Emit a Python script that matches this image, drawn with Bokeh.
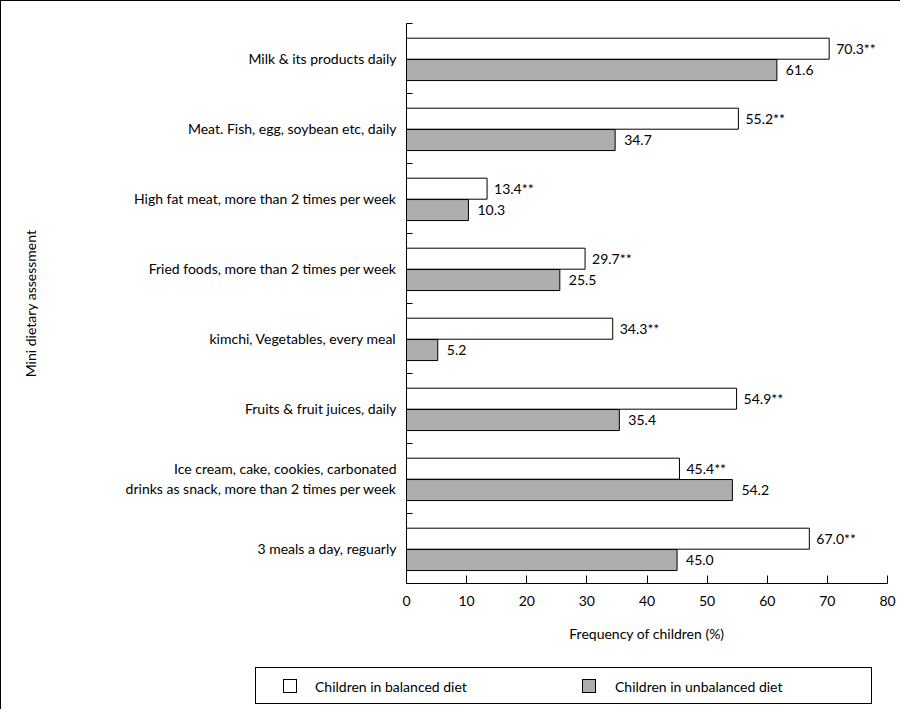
from bokeh.plotting import figure
from bokeh.models import Range1d, FixedTicker, ColumnDataSource, Div
from bokeh.layouts import column
from bokeh.embed import file_html
from bokeh.resources import INLINE
from bokeh.core.properties import value

# ---------------- data ----------------
categories = [
    "Milk & its products daily",
    "Meat. Fish, egg, soybean etc, daily",
    "High fat meat, more than 2 times per week",
    "Fried foods, more than 2 times per week",
    "kimchi, Vegetables, every meal",
    "Fruits & fruit juices, daily",
    "Ice cream, cake, cookies, carbonated\ndrinks as snack, more than 2 times per week",
    "3 meals a day, reguarly",
]
balanced = [70.3, 55.2, 13.4, 29.7, 34.3, 54.9, 45.4, 67.0]
unbalanced = [61.6, 34.7, 10.3, 25.5, 5.2, 35.4, 54.2, 45.0]
x_ticks = [0, 10, 20, 30, 40, 50, 60, 70, 80]
series_names = ["Children in balanced diet", "Children in unbalanced diet"]
x_title = "Frequency of children (%)"
y_title = "Mini dietary assessment"

FONT = "Lato"
FS = "14px"
GRAY = "#aeaeae"

n = len(categories)
idx = list(range(n))

src_b = ColumnDataSource(dict(
    y=[i + 0.36 for i in idx], x=balanced,
    lab=[f"{v:.1f}**" for v in balanced]))
src_u = ColumnDataSource(dict(
    y=[i + 0.665 for i in idx], x=unbalanced,
    lab=[f"{v:.1f}" for v in unbalanced]))

p = figure(width=899, height=666,
           x_range=Range1d(0, 80), y_range=Range1d(n, 0),
           output_backend="svg", toolbar_location=None,
           min_border_left=405, min_border_right=13,
           min_border_top=22, min_border_bottom=84)

p.hbar(y="y", left=0, right="x", height=0.3, source=src_b,
       fill_color="white", line_color="black", line_width=1)
p.hbar(y="y", left=0, right="x", height=0.3, source=src_u,
       fill_color=GRAY, line_color="black", line_width=1)

p.text(x="x", y="y", text="lab", source=src_b, x_offset=7,
       text_baseline="middle", text_align="left",
       text_font=value(FONT), text_font_size=FS, text_color="black")
p.text(x="x", y="y", text="lab", source=src_u, x_offset=9,
       text_baseline="middle", text_align="left",
       text_font=value(FONT), text_font_size=FS, text_color="black")

# y axis: labels at category centres, small ticks at category boundaries
p.yaxis.ticker = FixedTicker(ticks=[i + 0.5 for i in idx],
                             minor_ticks=list(range(n + 1)))
p.yaxis.major_label_overrides = {i + 0.5: c for i, c in zip(idx, categories)}
p.yaxis.major_tick_in = 0
p.yaxis.major_tick_out = 0
p.yaxis.minor_tick_in = 6
p.yaxis.minor_tick_out = 0
p.yaxis.major_label_standoff = 10
p.yaxis.axis_label = y_title
p.yaxis.axis_label_standoff = 84

# x axis
p.xaxis.ticker = FixedTicker(ticks=x_ticks, minor_ticks=[])
p.xaxis.major_tick_in = 8
p.xaxis.major_tick_out = 0
p.xaxis.minor_tick_in = 0
p.xaxis.minor_tick_out = 0
p.xaxis.major_label_standoff = 12
p.xaxis.axis_label = x_title
p.xaxis.axis_label_standoff = 16

for ax in p.axis:
    ax.axis_line_color = "black"
    ax.major_tick_line_color = "black"
    ax.minor_tick_line_color = "black"
    ax.major_label_text_font = FONT
    ax.major_label_text_font_size = FS
    ax.major_label_text_color = "black"
    ax.axis_label_text_font = FONT
    ax.axis_label_text_font_size = FS
    ax.axis_label_text_font_style = "normal"
    ax.axis_label_text_color = "black"

p.xgrid.visible = False
p.ygrid.visible = False
p.outline_line_color = None

# ---------------- legend box (HTML, real text) ----------------
def swatch(left, color):
    return (f'<span style="position:absolute;left:{left}px;top:11px;width:14px;'
            f'height:14px;border:1px solid black;background:{color};"></span>')

def label(left, txt):
    return (f'<span style="position:absolute;left:{left}px;top:11px;'
            f'line-height:16px;white-space:nowrap;">{txt}</span>')

legend_html = (
    f'<div style="position:relative;margin-left:254px;width:617px;height:37px;'
    f'border:1px solid black;background:white;font-family:\'{FONT}\';'
    f'font-size:{FS};color:black;">'
    + swatch(27, "white") + label(59, series_names[0])
    + swatch(326, GRAY) + label(359, series_names[1])
    + '</div>'
)
legend_div = Div(text=legend_html, width=899, height=42, margin=0)

layout = column(p, legend_div, spacing=0,
                styles={"border-left": "1px solid black",
                        "border-top": "1px solid black"})

open("out.html", "w").write(file_html(layout, INLINE))
